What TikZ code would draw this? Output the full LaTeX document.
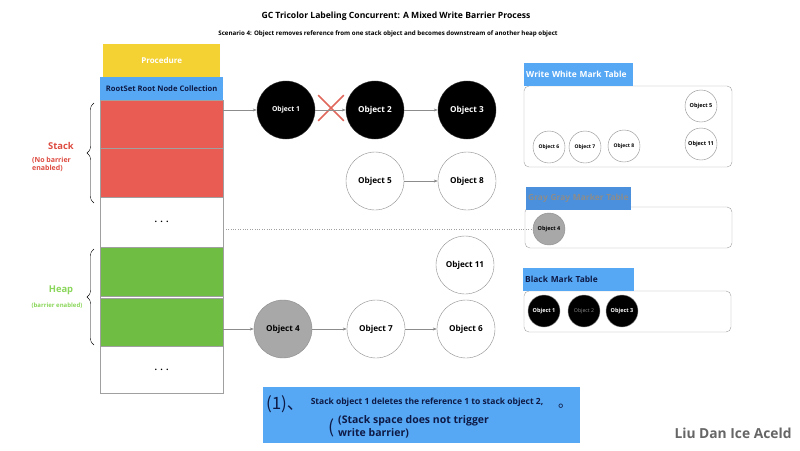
\documentclass[tikz,border=0pt]{standalone}
\usepackage{fontspec}
\setmainfont{Open Sans}
\newfontfamily\cjkfont{Noto Sans CJK SC}
\usetikzlibrary{arrows.meta,decorations.pathreplacing,shapes.misc}

\definecolor{procyellow}{HTML}{F4D234}
\definecolor{markblue}{HTML}{56A8F5}
\definecolor{greyblue}{HTML}{4A90DC}
\definecolor{stackred}{HTML}{E85C54}
\definecolor{heapgreen}{HTML}{70BD44}
\definecolor{heaptext}{HTML}{8AD65A}
\definecolor{stacktext}{HTML}{DD4B40}
\definecolor{cellgray}{HTML}{A0A0A0}
\definecolor{objgray}{HTML}{8C8C8C}
\definecolor{greyobj}{HTML}{A8A8A8}
\definecolor{navy}{HTML}{0E1A45}
\definecolor{cutred}{HTML}{E0675C}

\newcommand{\fsz}[1]{\fontsize{#1}{1.2\dimexpr#1pt\relax}\selectfont}

\tikzset{
  cell/.style={draw=cellgray, minimum width=123pt, inner sep=0pt, anchor=north west},
  obj/.style={circle, draw=objgray, minimum size=58pt, inner sep=0pt, font=\bfseries\fsz{8.2}},
  blackobj/.style={obj, fill=black, draw=black!80, text=white},
  smallobj/.style={circle, draw=objgray, minimum size=32pt, inner sep=0pt, font=\bfseries\fsz{5.5}},
  marktable/.style={draw=cellgray, rounded corners=5pt, inner sep=0pt},
  head/.style={fill=markblue, anchor=north west, minimum height=23pt, inner xsep=2pt,
    text width=#1, align=left, font=\bfseries\fsz{8.4}},
}

\begin{document}
\begin{tikzpicture}[x=1pt, y=-1pt]
  \useasboundingbox (0,0) rectangle (800,450);

  % Titles
  \node[font=\bfseries\fsz{8.6}] (title) at (396,16) {GC Tricolor Labeling Concurrent: A Mixed Write Barrier Process};
  \node[font=\bfseries\fsz{6.2}] (subtitle) at (388,34) {Scenario 4: Object removes reference from one stack object and becomes downstream of another heap object};

  % Memory column
  \node[fill=procyellow, minimum width=117pt, minimum height=33pt, anchor=north west,
    text=white, font=\bfseries\fsz{8}] (proc) at (103,44) {Procedure};
  \node[fill=markblue, minimum width=123pt, minimum height=23pt, anchor=north west,
    text=navy, font=\bfseries\fsz{7.6}] (rootset) at (100,77) {RootSet Root Node Collection};
  \node[cell, fill=stackred, minimum height=48pt] (stack1) at (100,100) {};
  \node[cell, fill=stackred, minimum height=49pt] (stack2) at (100,148) {};
  \node[cell, minimum height=50pt, font=\bfseries\fsz{9}] (gap1) at (100,197) {. . .};
  \node[cell, fill=heapgreen, minimum height=49pt] (heap1) at (100,247) {};
  \node[cell, fill=heapgreen, minimum height=48pt] (heap2) at (100,298) {};
  \node[cell, minimum height=47pt, font=\bfseries\fsz{9}] (gap2) at (100,346) {. . .};
  \draw[cellgray] (stack1.north west) rectangle (gap2.south east);

  % Braces
  \draw[decorate, decoration={brace, amplitude=7pt}] (94,203) -- (94,103);
  \draw[decorate, decoration={brace, amplitude=7pt}] (94,345) -- (94,249);
  \node[text=stacktext, font=\bfseries\fsz{9.4}] (stacklbl) at (61,146) {Stack};
  \node[text=stacktext, font=\bfseries\fsz{7}, align=left, anchor=north west, inner sep=0pt] (stacknote) at (32,157) {(No barrier\\enabled)};
  \node[text=heaptext, font=\bfseries\fsz{9.4}] (heaplbl) at (61,290) {Heap};
  \node[text=heaptext, font=\bfseries\fsz{6}] (heapnote) at (57,306) {(barrier enabled)};

  % Objects
  \node[blackobj, font=\bfseries\fsz{6.8}] (obj1) at (286,110) {Object 1};
  \node[blackobj] (obj2) at (375,110) {Object 2};
  \node[blackobj] (obj3) at (467,110) {Object 3};
  \node[obj] (obj5) at (375,181) {Object 5};
  \node[obj] (obj8) at (467,181) {Object 8};
  \node[obj] (obj11) at (465,265) {Object 11};
  \node[obj, fill=greyobj] (obj4) at (283,329) {Object 4};
  \node[obj] (obj7) at (376,329) {Object 7};
  \node[obj] (obj6) at (466,329) {Object 6};
  \node[cross out, draw=cutred, line width=1.6pt, minimum size=24pt] (cut) at (331,108) {};

  % Mark tables
  \node[marktable, minimum width=208pt, minimum height=81pt] (wtab) at (628,126.5) {};
  \node[head=105pt, text=white] (wtitle) at (524,63) {Write White Mark Table};
  \node[smallobj] (w5) at (701,106) {Object 5};
  \node[smallobj] (w11) at (701,144) {Object 11};
  \node[smallobj, font=\bfseries\fsz{5}] (w6) at (549,147) {Object 6};
  \node[smallobj, font=\bfseries\fsz{5}] (w7) at (585,147) {Object 7};
  \node[smallobj, font=\bfseries\fsz{5}] (w8) at (624,146) {Object 8};

  \node[marktable, minimum width=207pt, minimum height=41pt] (gtab) at (628.5,227.5) {};
  \node[head=101pt, fill=greyblue, text=black!45] (gtitle) at (526,187) {Gray Gray Marker Table};
  \node[smallobj, fill=greyobj] (g4) at (549,229) {Object 4};

  \node[marktable, minimum width=207pt, minimum height=41pt] (btab) at (627.5,311.5) {};
  \node[head=107pt, text=navy] (btitle) at (523,268) {Black Mark Table};
  \node[smallobj, fill=black, text=white] (b1) at (544,311) {Object 1};
  \node[smallobj, fill=black, text=black!45, font=\fsz{5.2}] (b2) at (584,311) {Object 2};
  \node[smallobj, fill=black, text=white] (b3) at (622,311) {Object 3};

  % Edges
  \begin{scope}[every edge/.style={draw, objgray, -{Stealth[length=4pt, width=3pt]}}]
    \path (stack1.east |- obj1) edge (obj1);
    \path (obj1) edge (obj2);
    \path (obj2) edge (obj3);
    \path (obj5) edge (obj8);
    \path (heap2.east |- obj4) edge (obj4);
    \path (obj4) edge (obj7);
    \path (obj7) edge (obj6);
  \end{scope}
  \draw[cellgray, dotted] (gap1.east |- g4) -- (g4.west);

  % Step note
  \node[fill=markblue, minimum width=317pt, minimum height=56pt, anchor=north west] (note) at (263,387) {};
  \node[text=navy, font=\cjkfont\fsz{17}] (step) at (285,404) {(1)、};
  \node[text=navy, font=\bfseries\fsz{8.5}] (line1) at (427,402) {Stack object 1 deletes the reference 1 to stack object 2,};
  \node[text=navy, font=\cjkfont\fsz{14}, inner sep=0pt] (stop) at (565,406) {。};
  \node[text=navy, font=\cjkfont\fsz{18}, anchor=east, inner sep=0pt] (paren) at (335,428) {(};
  \node[text=navy, font=\bfseries\fsz{10.5}, anchor=west, align=left, inner sep=0pt] (line2) at (338,427) {(Stack space does not trigger\\write barrier)};

  % Author
  \node[text=black!60, font=\bfseries\fsz{13.8}] (author) at (733,433) {Liu Dan Ice Aceld};

\end{tikzpicture}
\end{document}
